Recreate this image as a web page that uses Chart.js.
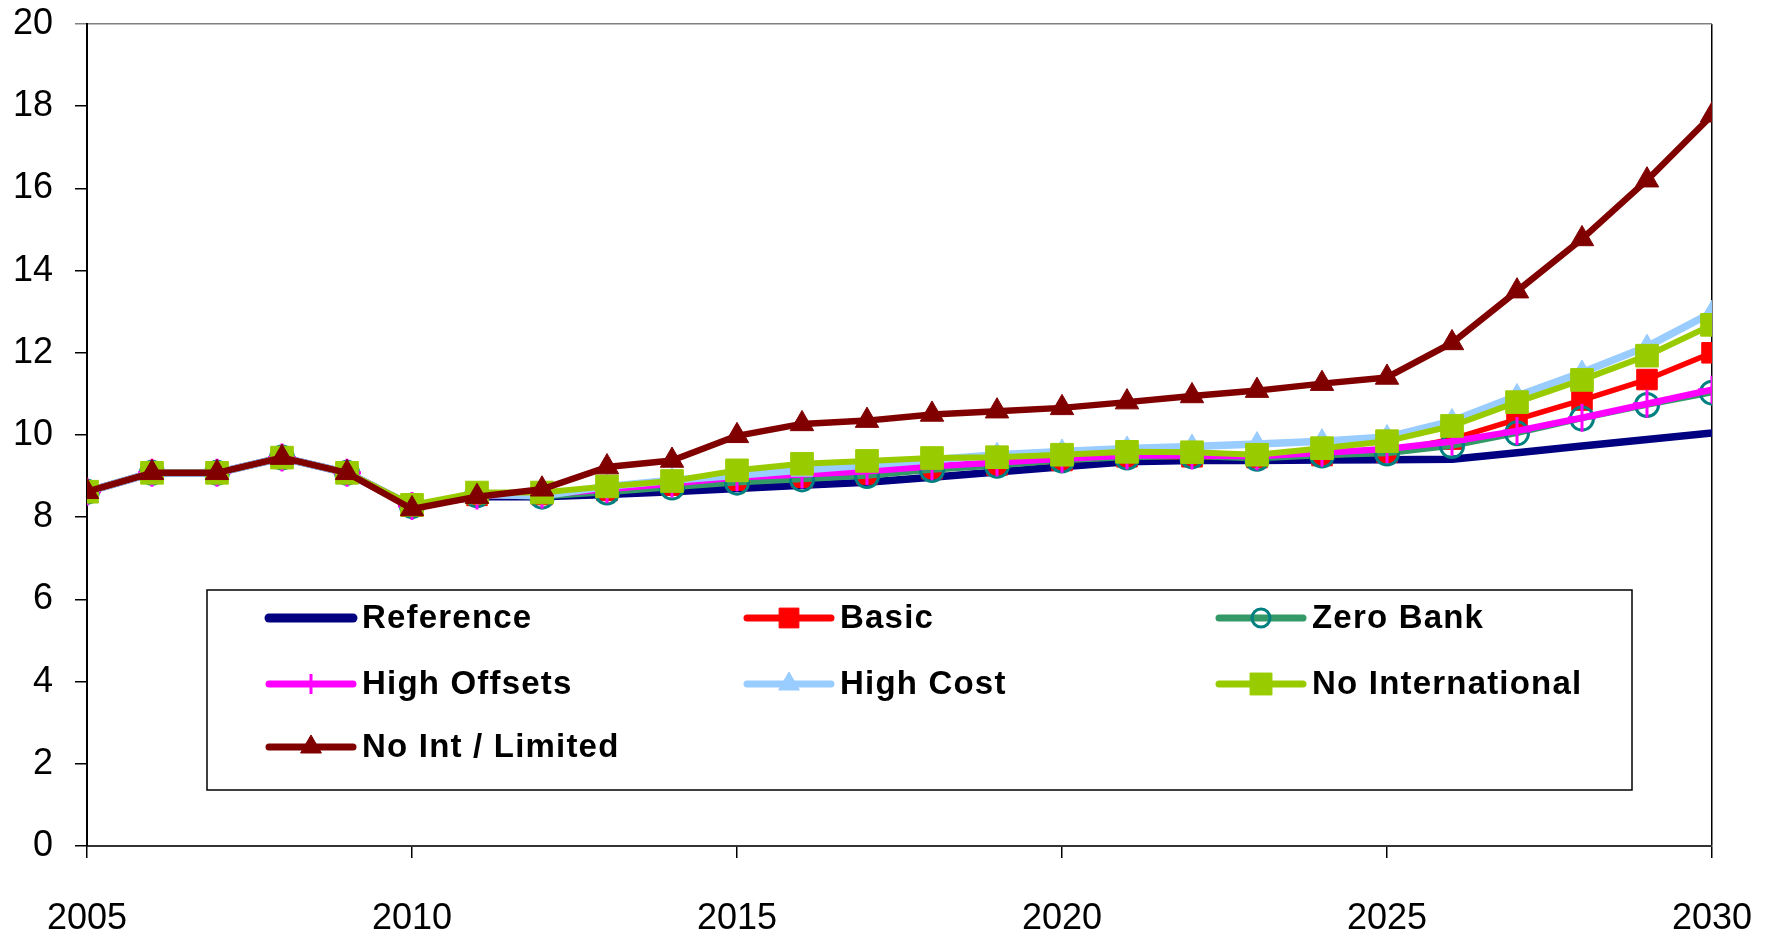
<!DOCTYPE html>
<html>
<head>
<meta charset="utf-8">
<title>Scenarios 2005-2030</title>
<script src="https://cdn.jsdelivr.net/npm/chart.js"></script>
<style>
  html, body { margin: 0; padding: 0; background: #fff; }
  #wrap { position: relative; width: 1774px; height: 937px; }
</style>
</head>
<body>
<div id="wrap"><canvas id="myChart"></canvas></div>
<script>
var years = [2005, 2006, 2007, 2008, 2009, 2010, 2011, 2012, 2013, 2014, 2015, 2016, 2017,
             2018, 2019, 2020, 2021, 2022, 2023, 2024, 2025, 2026, 2027, 2028, 2029, 2030];

var reference    = [8.62, 9.08, 9.08, 9.45, 9.08, 8.27, 8.50, 8.50, 8.55, 8.62, 8.70, 8.78, 8.85,
                    8.97, 9.10, 9.23, 9.35, 9.38, 9.38, 9.39, 9.40, 9.41, 9.57, 9.73, 9.89, 10.05];
var basic        = [8.62, 9.08, 9.08, 9.45, 9.08, 8.27, 8.53, 8.55, 8.65, 8.78, 8.90, 8.97, 9.05,
                    9.18, 9.27, 9.38, 9.47, 9.47, 9.45, 9.50, 9.58, 9.90, 10.38, 10.85, 11.35, 12.00];
var zeroBank     = [8.62, 9.08, 9.08, 9.45, 9.08, 8.27, 8.53, 8.50, 8.60, 8.72, 8.84, 8.92, 9.00,
                    9.15, 9.25, 9.38, 9.45, 9.48, 9.42, 9.50, 9.55, 9.73, 10.04, 10.40, 10.73, 11.03];
var highOffsets  = [8.62, 9.08, 9.08, 9.45, 9.08, 8.27, 8.53, 8.55, 8.68, 8.82, 8.97, 9.04, 9.12,
                    9.24, 9.33, 9.42, 9.50, 9.50, 9.48, 9.57, 9.66, 9.84, 10.10, 10.42, 10.76, 11.10];
var highCost     = [8.62, 9.08, 9.08, 9.45, 9.08, 8.27, 8.55, 8.52, 8.75, 8.90, 9.02, 9.15, 9.27,
                    9.40, 9.52, 9.60, 9.67, 9.72, 9.78, 9.85, 9.95, 10.34, 10.95, 11.52, 12.15, 12.98];
var noIntl       = [8.62, 9.08, 9.08, 9.45, 9.08, 8.30, 8.60, 8.60, 8.75, 8.88, 9.14, 9.30, 9.37,
                    9.44, 9.46, 9.52, 9.59, 9.58, 9.52, 9.68, 9.85, 10.22, 10.80, 11.34, 11.93, 12.68];
var noIntLimited = [8.62, 9.08, 9.08, 9.45, 9.08, 8.20, 8.50, 8.68, 9.22, 9.38, 9.98, 10.27, 10.35,
                    10.50, 10.58, 10.66, 10.80, 10.95, 11.08, 11.25, 11.40, 12.24, 13.50, 14.77, 16.20, 17.78];

var seriesNames = ["Reference", "Basic", "Zero Bank", "High Offsets", "High Cost",
                   "No International", "No Int / Limited"];
var yTicks = [0, 2, 4, 6, 8, 10, 12, 14, 16, 18, 20];

function pts(vals) {
    return vals.map(function(v, i) { return { x: years[i], y: v }; });
}

Chart.defaults.font.family = "'Liberation Sans', Arial, sans-serif";
Chart.defaults.color = "#000";

// legend drawn inside the plot, boxed, three columns
var boxLegend = {
    id: "boxLegend",
    afterDraw: function(chart) {
        var ctx = chart.ctx;
        var cols = [265, 743, 1215];
        var rows = [618, 684, 747];
        ctx.save();
        ctx.fillStyle = "#fff";
        ctx.fillRect(207, 590, 1425, 200);
        ctx.strokeStyle = "#000";
        ctx.lineWidth = 1.5;
        ctx.strokeRect(207, 590, 1425, 200);

        chart.data.datasets.forEach(function(ds, i) {
            var x0 = cols[i % 3], y = rows[Math.floor(i / 3)];
            ctx.lineCap = "round";
            ctx.strokeStyle = ds.borderColor;
            ctx.lineWidth = ds.legendLine;
            ctx.beginPath();
            ctx.moveTo(x0 + 4, y);
            ctx.lineTo(x0 + 88, y);
            ctx.stroke();
            if (ds.pointRadius > 0) {
                ctx.lineCap = "butt";
                ctx.fillStyle = ds.pointBackgroundColor;
                ctx.strokeStyle = ds.pointBorderColor;
                ctx.lineWidth = ds.pointBorderWidth;
                Chart.helpers.drawPoint(ctx, {
                    pointStyle: ds.pointStyle,
                    radius: ds.legendRadius,
                    borderWidth: ds.pointBorderWidth,
                    rotation: 0
                }, x0 + 46, y);
            }
            ctx.fillStyle = "#000";
            ctx.font = "bold 33px 'Liberation Sans', Arial, sans-serif";
            ctx.letterSpacing = "1.2px";
            ctx.textAlign = "left";
            ctx.textBaseline = "middle";
            ctx.fillText(seriesNames[i], x0 + 97, y + 1);
        });
        ctx.restore();
    }
};

new Chart(document.getElementById("myChart"), {
    type: "line",
    data: {
        datasets: [{
            label: seriesNames[0], data: pts(reference), order: 6,
            borderColor: "#000080", borderWidth: 7.5, pointRadius: 0, legendLine: 9
        }, {
            label: seriesNames[1], data: pts(basic), order: 5,
            borderColor: "#ff0000", borderWidth: 5.5,
            pointStyle: "rect", pointRadius: 14.5, legendRadius: 14,
            pointBackgroundColor: "#ff0000", pointBorderColor: "#ff0000", pointBorderWidth: 1, legendLine: 7
        }, {
            label: seriesNames[2], data: pts(zeroBank), order: 4,
            borderColor: "#339966", borderWidth: 5.5,
            pointStyle: "circle", pointRadius: 11.5, legendRadius: 9,
            pointBackgroundColor: "rgba(0,0,0,0)", pointBorderColor: "#008080", pointBorderWidth: 3, legendLine: 7
        }, {
            label: seriesNames[3], data: pts(highOffsets), order: 3,
            borderColor: "#ff00ff", borderWidth: 6.5,
            pointStyle: "cross", pointRadius: 14, legendRadius: 10,
            pointBackgroundColor: "#ff00ff", pointBorderColor: "#ff00ff", pointBorderWidth: 3, legendLine: 7
        }, {
            label: seriesNames[4], data: pts(highCost), order: 2,
            borderColor: "#99ccff", borderWidth: 7.5,
            pointStyle: "triangle", pointRadius: 12.5, legendRadius: 12,
            pointBackgroundColor: "#99ccff", pointBorderColor: "#99ccff", pointBorderWidth: 1, legendLine: 7
        }, {
            label: seriesNames[5], data: pts(noIntl), order: 1,
            borderColor: "#99cc00", borderWidth: 6,
            pointStyle: "rect", pointRadius: 16, legendRadius: 15.5,
            pointBackgroundColor: "#99cc00", pointBorderColor: "#99cc00", pointBorderWidth: 1, legendLine: 7
        }, {
            label: seriesNames[6], data: pts(noIntLimited), order: 0,
            borderColor: "#800000", borderWidth: 6.5,
            pointStyle: "triangle", pointRadius: 13.5, legendRadius: 12,
            pointBackgroundColor: "#800000", pointBorderColor: "#800000", pointBorderWidth: 1, legendLine: 7
        }]
    },
    options: {
        responsive: true,
        maintainAspectRatio: false,
        devicePixelRatio: 1,
        animation: false,
        events: [],
        elements: { line: { tension: 0, borderJoinStyle: "round", borderCapStyle: "round" } },
        layout: { padding: { top: 24, right: 62, left: 0, bottom: 0 } },
        plugins: { legend: { display: false }, tooltip: { enabled: false } },
        scales: {
            x: {
                type: "linear",
                min: years[0],
                max: years[years.length - 1],
                afterFit: function(scale) {
                    scale.height = 91;
                    scale.paddingLeft = 0;
                    scale.paddingRight = 0;
                },
                ticks: {
                    stepSize: 5,
                    padding: 39,
                    font: { size: 36 },
                    color: "#000",
                    maxRotation: 0,
                    callback: function(v) { return String(v); }
                },
                grid: {
                    drawOnChartArea: true,
                    tickLength: 12,
                    lineWidth: 1.5,
                    color: function(c) { return c.tick && c.tick.value === years[years.length - 1] ? "#000" : "rgba(0,0,0,0)"; },
                    tickColor: "#000"
                },
                border: { display: true, color: "#333", width: 2 }
            },
            y: {
                min: yTicks[0],
                max: yTicks[yTicks.length - 1],
                afterFit: function(scale) {
                    scale.width = 87;
                    scale.paddingTop = 0;
                    scale.paddingBottom = 0;
                },
                afterBuildTicks: function(scale) {
                    scale.ticks = yTicks.map(function(v) { return { value: v }; });
                },
                ticks: {
                    padding: 22,
                    font: { size: 36 },
                    color: "#000"
                },
                grid: {
                    drawOnChartArea: true,
                    tickLength: 12,
                    lineWidth: 1.5,
                    color: function(c) { return c.tick && c.tick.value === yTicks[yTicks.length - 1] ? "#808080" : "rgba(0,0,0,0)"; },
                    tickColor: function(c) { return c.tick && c.tick.value === yTicks[yTicks.length - 1] ? "#808080" : "#000"; }
                },
                border: { display: true, color: "#000", width: 2 }
            }
        }
    },
    plugins: [boxLegend]
});
</script>
</body>
</html>
